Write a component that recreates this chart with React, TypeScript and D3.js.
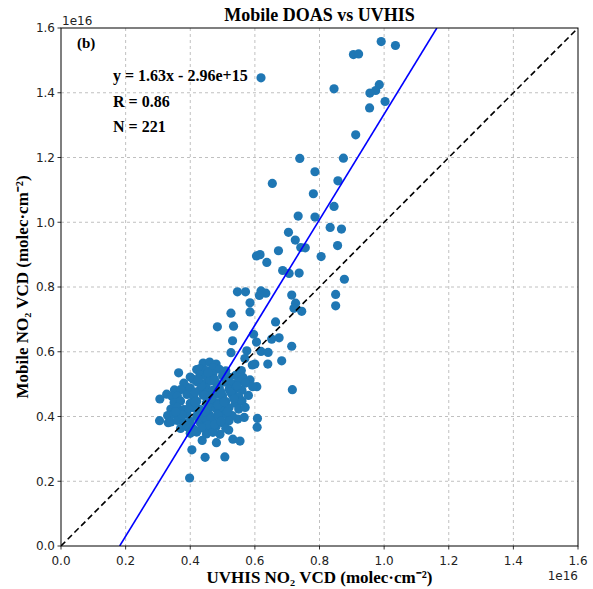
import React from "react";
import * as d3 from "d3";

// Values in units of 1e16 molec/cm^2: [UVHIS, Mobile DOAS]
const outlierPoints: [number, number][] = [
  [0.619, 1.446], [0.991, 1.558], [1.035, 1.546], [0.905, 1.518], [0.921, 1.520],
  [0.845, 1.412], [0.985, 1.425], [0.974, 1.407], [0.956, 1.399], [1.003, 1.373],
  [0.955, 1.353], [0.912, 1.270], [0.739, 1.197], [0.874, 1.198], [0.786, 1.156],
  [0.857, 1.128], [0.654, 1.120], [0.781, 1.088], [0.845, 1.049], [0.734, 1.019],
  [0.786, 1.016], [0.833, 0.984], [0.868, 0.979], [0.704, 0.969], [0.725, 0.945],
  [0.742, 0.922], [0.756, 0.921], [0.856, 0.928], [0.605, 0.896], [0.616, 0.900],
  [0.673, 0.912], [0.637, 0.876], [0.805, 0.894], [0.686, 0.851], [0.706, 0.842],
  [0.737, 0.843], [0.877, 0.824], [0.546, 0.785], [0.571, 0.785], [0.619, 0.788],
  [0.634, 0.781], [0.614, 0.774], [0.714, 0.775], [0.850, 0.777], [0.585, 0.751],
  [0.726, 0.750], [0.850, 0.742], [0.721, 0.734], [0.745, 0.725], [0.526, 0.719],
  [0.585, 0.723], [0.664, 0.692], [0.484, 0.677], [0.534, 0.679], [0.596, 0.654],
  [0.605, 0.630], [0.531, 0.634], [0.652, 0.639], [0.675, 0.643], [0.714, 0.617],
  [0.619, 0.601], [0.641, 0.598], [0.526, 0.597], [0.575, 0.603], [0.569, 0.579],
  [0.683, 0.572], [0.592, 0.559], [0.600, 0.562], [0.640, 0.562], [0.716, 0.483],
  [0.558, 0.542], [0.563, 0.521], [0.585, 0.513], [0.606, 0.492], [0.593, 0.492],
  [0.364, 0.535], [0.409, 0.515], [0.389, 0.491], [0.351, 0.482], [0.327, 0.469],
  [0.344, 0.462], [0.306, 0.454], [0.305, 0.387], [0.332, 0.381], [0.608, 0.394],
  [0.607, 0.367], [0.405, 0.297], [0.437, 0.326], [0.446, 0.274], [0.481, 0.319],
  [0.492, 0.345], [0.507, 0.275], [0.519, 0.358], [0.532, 0.330], [0.554, 0.324],
  [0.547, 0.392], [0.567, 0.397], [0.398, 0.210],
];

const clusterPoints: [number, number][] = [
  [0.44, 0.565], [0.46, 0.568], [0.48, 0.562],
  [0.42, 0.545], [0.43, 0.548], [0.45, 0.542], [0.47, 0.551], [0.49, 0.546], [0.51, 0.541],
  [0.40, 0.522], [0.43, 0.528], [0.45, 0.524], [0.47, 0.531], [0.50, 0.526], [0.52, 0.521], [0.54, 0.527],
  [0.38, 0.503], [0.42, 0.507], [0.44, 0.501], [0.46, 0.509], [0.48, 0.504], [0.51, 0.506], [0.53, 0.501], [0.55, 0.508], [0.57, 0.503],
  [0.37, 0.483], [0.40, 0.488], [0.43, 0.482], [0.45, 0.487], [0.47, 0.481], [0.49, 0.489], [0.52, 0.484], [0.54, 0.486], [0.56, 0.481],
  [0.36, 0.463], [0.39, 0.468], [0.41, 0.461], [0.44, 0.466], [0.46, 0.462], [0.48, 0.469], [0.50, 0.464], [0.53, 0.467], [0.55, 0.461], [0.58, 0.465],
  [0.35, 0.443], [0.37, 0.448], [0.40, 0.441], [0.42, 0.447], [0.45, 0.442], [0.47, 0.449], [0.49, 0.443], [0.51, 0.446], [0.54, 0.441], [0.56, 0.448],
  [0.34, 0.423], [0.36, 0.428], [0.38, 0.421], [0.41, 0.427], [0.43, 0.422], [0.46, 0.428], [0.48, 0.424], [0.50, 0.421], [0.52, 0.427], [0.55, 0.423], [0.57, 0.428],
  [0.33, 0.403], [0.35, 0.408], [0.37, 0.401], [0.39, 0.407], [0.42, 0.402], [0.44, 0.409], [0.46, 0.404], [0.49, 0.401], [0.51, 0.406], [0.53, 0.403],
  [0.34, 0.383], [0.36, 0.388], [0.38, 0.381], [0.40, 0.386], [0.43, 0.382], [0.45, 0.389], [0.47, 0.384], [0.50, 0.381], [0.52, 0.387],
  [0.37, 0.363], [0.39, 0.368], [0.41, 0.361], [0.44, 0.367], [0.46, 0.362], [0.48, 0.369], [0.51, 0.364],
  [0.40, 0.348], [0.42, 0.352], [0.45, 0.346], [0.47, 0.351],
  [0.455, 0.535], [0.475, 0.515], [0.435, 0.495], [0.415, 0.475], [0.465, 0.455],
  [0.485, 0.435], [0.505, 0.445], [0.445, 0.415], [0.425, 0.395], [0.465, 0.395],
  [0.485, 0.405], [0.455, 0.375], [0.435, 0.365], [0.475, 0.375], [0.395, 0.425],
  [0.375, 0.405], [0.415, 0.445], [0.525, 0.475], [0.535, 0.455], [0.515, 0.415],
  [0.495, 0.385], [0.385, 0.375], [0.355, 0.415], [0.545, 0.495], [0.505, 0.525],
  [0.445, 0.465], [0.425, 0.515], [0.495, 0.475],
];

const points: [number, number][] = [...outlierPoints, ...clusterPoints];

const tickValues = [0, 0.2, 0.4, 0.6, 0.8, 1.0, 1.2, 1.4, 1.6];
const fitSlope = 1.63;
const fitIntercept = -0.296; // -2.96e15 in 1e16 units
const statLines = ["y = 1.63x - 2.96e+15", "R = 0.86", "N = 221"];

const W = 593;
const H = 589;
const L = 61, R = 578, T = 28, B = 546;

export default function App() {
  const x = d3.scaleLinear().domain([0, 1.6]).range([L, R]);
  const y = d3.scaleLinear().domain([0, 1.6]).range([B, T]);
  const fmt = d3.format(".1f");

  const xAtY0 = -fitIntercept / fitSlope;
  const xAtYMax = (1.6 - fitIntercept) / fitSlope;
  const line = d3.line<[number, number]>().x((d) => x(d[0])).y((d) => y(d[1]));
  const fitPath = line([[xAtY0, fitSlope * xAtY0 + fitIntercept], [xAtYMax, fitSlope * xAtYMax + fitIntercept]]);
  const onePath = line([[0, 0], [1.6, 1.6]]);

  const tickFont = "DejaVu Sans, sans-serif";
  const serif = "Liberation Serif, Times New Roman, serif";

  return (
    <svg width={W} height={H} style={{ position: "absolute", left: 0, top: 0, background: "#fff" }}>
      <defs>
        <clipPath id="plotclip">
          <rect x={L} y={T} width={R - L} height={B - T} />
        </clipPath>
      </defs>
      {/* grid */}
      <g stroke="#b0b0b0" strokeWidth={0.8} strokeDasharray="3,3">
        {tickValues.slice(1, -1).map((t) => (
          <line key={"gx" + t} x1={x(t)} x2={x(t)} y1={T} y2={B} />
        ))}
        {tickValues.slice(1, -1).map((t) => (
          <line key={"gy" + t} x1={L} x2={R} y1={y(t)} y2={y(t)} />
        ))}
      </g>
      <g clipPath="url(#plotclip)">
        {points.map((p, i) => (
          <circle key={i} cx={x(p[0])} cy={y(p[1])} r={4.6} fill="#1f77b4" />
        ))}
        <path d={fitPath || ""} stroke="#0000ff" strokeWidth={1.6} fill="none" />
        <path d={onePath || ""} stroke="#000" strokeWidth={1.6} strokeDasharray="6,3.5" fill="none" />
      </g>
      {/* frame */}
      <rect x={L} y={T} width={R - L} height={B - T} fill="none" stroke="#000" strokeWidth={1} />
      {/* ticks */}
      <g stroke="#000" strokeWidth={0.8}>
        {tickValues.map((t) => (
          <line key={"tx" + t} x1={x(t)} x2={x(t)} y1={B} y2={B + 3.5} />
        ))}
        {tickValues.map((t) => (
          <line key={"ty" + t} x1={L - 3.5} x2={L} y1={y(t)} y2={y(t)} />
        ))}
      </g>
      <g fontFamily={tickFont} fontSize={12} fill="#222">
        {tickValues.map((t) => (
          <text key={"lx" + t} x={x(t)} y={B + 19} textAnchor="middle">{fmt(t)}</text>
        ))}
        {tickValues.map((t) => (
          <text key={"ly" + t} x={L - 6} y={y(t) + 4.3} textAnchor="end">{fmt(t)}</text>
        ))}
        <text x={L + 1} y={25}>1e16</text>
        <text x={R} y={580} textAnchor="end">1e16</text>
      </g>
      <text x={(L + R) / 2} y={21} textAnchor="middle" fontFamily={serif} fontWeight="bold" fontSize={18}>
        Mobile DOAS vs UVHIS
      </text>
      <text x={(L + R) / 2} y={583} textAnchor="middle" fontFamily={serif} fontWeight="bold" fontSize={17}>
        UVHIS NO₂ VCD (molec·cm⁻²)
      </text>
      <text
        transform={`translate(28, ${(T + B) / 2}) rotate(-90)`}
        textAnchor="middle"
        fontFamily={serif}
        fontWeight="bold"
        fontSize={17}
      >
        Mobile NO₂ VCD (molec·cm⁻²)
      </text>
      <text x={77} y={48} fontFamily={serif} fontWeight="bold" fontSize={15}>(b)</text>
      <g fontFamily={serif} fontWeight="bold" fontSize={16}>
        {statLines.map((s, i) => (
          <text key={s} x={113} y={81 + i * 25.5}>{s}</text>
        ))}
      </g>
    </svg>
  );
}
